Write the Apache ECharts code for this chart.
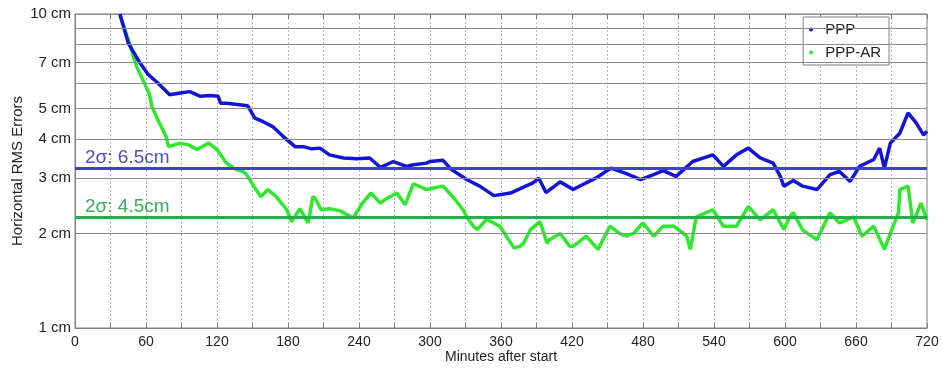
<!DOCTYPE html>
<html>
<head>
<meta charset="utf-8">
<script src="https://cdn.jsdelivr.net/npm/echarts@6/dist/echarts.min.js"></script>
<style>
  html, body { margin: 0; padding: 0; background: #fff; }
  #main { width: 943px; height: 370px; }
</style>
</head>
<body>
<div id="main"></div>
<script>
// PPP (blue) - minutes after start / horizontal RMS error in cm
var pppMin = [38, 45, 55, 62, 70, 80, 89, 97, 106, 114, 121, 123, 128, 139, 146, 152, 159, 167, 176, 186,
  193, 200, 207, 215, 227, 238, 249, 258, 263, 269, 280, 286, 297, 300, 311, 318, 331, 342, 354, 368,
  379, 387, 392, 398, 410, 421, 432, 440, 453, 466, 478, 489, 497, 508, 522, 539, 548, 559, 569, 579,
  590, 596, 599, 607, 615, 627, 638, 646, 655, 663, 675, 680, 684, 689, 697, 704, 711, 717, 720];
var pppCm = [10, 8.08, 6.98, 6.41, 6.03, 5.53, 5.6, 5.66, 5.47, 5.5, 5.47, 5.2, 5.2, 5.14, 5.1, 4.66, 4.54, 4.38, 4.07, 3.78,
  3.78, 3.72, 3.74, 3.56, 3.48, 3.46, 3.48, 3.25, 3.31, 3.39, 3.27, 3.31, 3.35, 3.39, 3.42, 3.2, 2.97, 2.83, 2.64, 2.69,
  2.81, 2.9, 3.0, 2.7, 2.92, 2.76, 2.9, 3.0, 3.23, 3.1, 2.97, 3.08, 3.17, 3.04, 3.39, 3.56, 3.27, 3.56, 3.74, 3.48,
  3.35, 3.04, 2.83, 2.95, 2.83, 2.76, 3.08, 3.15, 2.93, 3.27, 3.44, 3.74, 3.23, 3.88, 4.17, 4.84, 4.49, 4.12, 4.23];

// PPP-AR (green)
var arMin = [38, 46, 52, 58, 63, 65, 70, 77, 79, 89, 96, 103, 113, 120, 128, 136, 142, 145, 151, 157,
  163, 170, 179, 183, 190, 197, 201, 203, 208, 215, 224, 235, 243, 250, 258, 263, 272, 279, 286, 297,
  311, 320, 328, 331, 337, 340, 348, 359, 371, 376, 379, 385, 393, 399, 401, 410, 418, 421, 432, 442,
  452, 460, 466, 472, 480, 489, 497, 506, 517, 520, 525, 539, 548, 559, 569, 579, 590, 599, 604, 607,
  615, 627, 638, 646, 658, 665, 675, 684, 689, 696, 697, 704, 708, 715, 720];
var arCm = [9.9, 8.08, 6.8, 6.1, 5.53, 5.08, 4.6, 4.07, 3.78, 3.88, 3.83, 3.7, 3.88, 3.7, 3.35, 3.2, 3.15, 3.08, 2.83, 2.62,
  2.76, 2.62, 2.38, 2.18, 2.4, 2.16, 2.62, 2.59, 2.38, 2.4, 2.36, 2.24, 2.5, 2.69, 2.5, 2.58, 2.69, 2.47, 2.88, 2.76,
  2.83, 2.6, 2.38, 2.26, 2.1, 2.06, 2.22, 2.11, 1.8, 1.82, 1.86, 2.06, 2.18, 1.86, 1.91, 2.0, 1.82, 1.82, 1.96, 1.78,
  2.11, 2.0, 1.96, 2.0, 2.16, 1.96, 2.11, 2.11, 1.96, 1.78, 2.26, 2.38, 2.11, 2.11, 2.44, 2.21, 2.38, 2.06, 2.26, 2.33,
  2.05, 1.91, 2.33, 2.16, 2.26, 1.96, 2.11, 1.78, 2.0, 2.33, 2.76, 2.83, 2.16, 2.5, 2.21];

// horizontal grid values and which get a label
var gridCm = [2, 3, 4, 5, 6, 7, 8, 9];
var labelledCm = [2, 3, 4, 5, 7];
// 2-sigma reference levels (drawn position, label text)
var sigmaPpp = 3.22, sigmaPppText = '2σ: 6.5cm';
var sigmaAr = 2.26, sigmaArText = '2σ: 4.5cm';

function pairs(xs, ys) {
  return xs.map(function (x, i) { return [x, ys[i]]; });
}

var chart = echarts.init(document.getElementById('main'));
var font = 'Arial, "Liberation Sans", sans-serif';

var option = {
  animation: false,
  textStyle: { fontFamily: font },
  grid: {
    left: 75, right: 16, top: 14, bottom: 42,
    outerBoundsMode: 'none', containLabel: false,
    show: true, borderColor: '#808080', borderWidth: 1
  },
  legend: {
    data: [
      { name: 'PPP', icon: 'circle' },
      { name: 'PPP-AR', icon: 'circle' }
    ],
    orient: 'vertical',
    right: 54, top: 17,
    backgroundColor: '#fff',
    borderColor: '#808080', borderWidth: 1,
    padding: [5, 8, 5, 6],
    itemWidth: 18, itemHeight: 4, itemGap: 8,
    textStyle: { fontSize: 15, color: '#222', fontFamily: font }
  },
  xAxis: [{
    type: 'value', min: 0, max: 720, interval: 30,
    name: 'Minutes after start', nameLocation: 'middle', nameGap: 22,
    nameMoveOverlap: false,
    nameTextStyle: { fontSize: 14, color: '#222' },
    axisLine: { lineStyle: { color: '#808080' } },
    axisTick: { inside: true, length: 5, lineStyle: { color: '#808080' } },
    axisLabel: {
      fontSize: 14, color: '#222', margin: 7,
      formatter: function (v) { return v % 60 === 0 ? String(v) : ''; }
    },
    splitLine: { show: true, lineStyle: { color: '#b8b8b8', type: [2, 2] } }
  }, {
    type: 'value', min: 0, max: 720, interval: 30, position: 'top',
    axisLine: { show: false },
    axisTick: { inside: true, length: 5, lineStyle: { color: '#808080' } },
    axisLabel: { show: false },
    splitLine: { show: false }
  }],
  yAxis: {
    type: 'log', logBase: 10, min: 1, max: 10,
    name: 'Horizontal RMS Errors', nameLocation: 'middle', nameGap: 50,
    nameMoveOverlap: false,
    nameTextStyle: { fontSize: 15, color: '#222' },
    axisLine: { lineStyle: { color: '#808080' } },
    axisTick: { show: false },
    axisLabel: { fontSize: 15, color: '#222', margin: 4, formatter: '{value} cm' },
    splitLine: { show: true, lineStyle: { color: '#8c8c8c' } }
  },
  series: [
    {
      name: 'grid', type: 'line', data: [], silent: true, z: 1,
      markLine: {
        silent: true, symbol: 'none', animation: false,
        lineStyle: { color: '#8c8c8c', width: 1, type: 'solid' },
        label: { show: false },
        data: gridCm.map(function (v) {
          var shown = labelledCm.indexOf(v) >= 0;
          return {
            yAxis: v,
            label: {
              show: shown, position: 'start', distance: 4,
              formatter: v + ' cm', fontSize: 15, color: '#222', fontFamily: font
            }
          };
        })
      }
    },
    {
      name: 'PPP-AR', type: 'line', data: pairs(arMin, arCm),
      showSymbol: false, symbol: 'circle', z: 3,
      itemStyle: { color: '#2ee82e' },
      lineStyle: { color: '#2ee82e', width: 3.5 }
    },
    {
      name: 'PPP', type: 'line', data: pairs(pppMin, pppCm),
      showSymbol: false, symbol: 'circle', z: 4,
      itemStyle: { color: '#1414d6' },
      lineStyle: { color: '#1414d6', width: 3.5 }
    },
    {
      name: 'sigma', type: 'line', data: [], silent: true, z: 5,
      markLine: {
        silent: true, symbol: 'none', animation: false,
        data: [
          {
            yAxis: sigmaPpp,
            lineStyle: { color: '#3a45c8', width: 3, type: 'solid' },
            label: {
              show: true, position: 'insideStartTop', distance: [10, 1],
              formatter: sigmaPppText, fontSize: 19, color: '#4a52b8', fontFamily: font
            }
          },
          {
            yAxis: sigmaAr,
            lineStyle: { color: '#26ae4c', width: 3, type: 'solid' },
            label: {
              show: true, position: 'insideStartTop', distance: [10, 1],
              formatter: sigmaArText, fontSize: 19, color: '#3aa95c', fontFamily: font
            }
          }
        ]
      }
    }
  ]
};
chart.setOption(option);
</script>
</body>
</html>
